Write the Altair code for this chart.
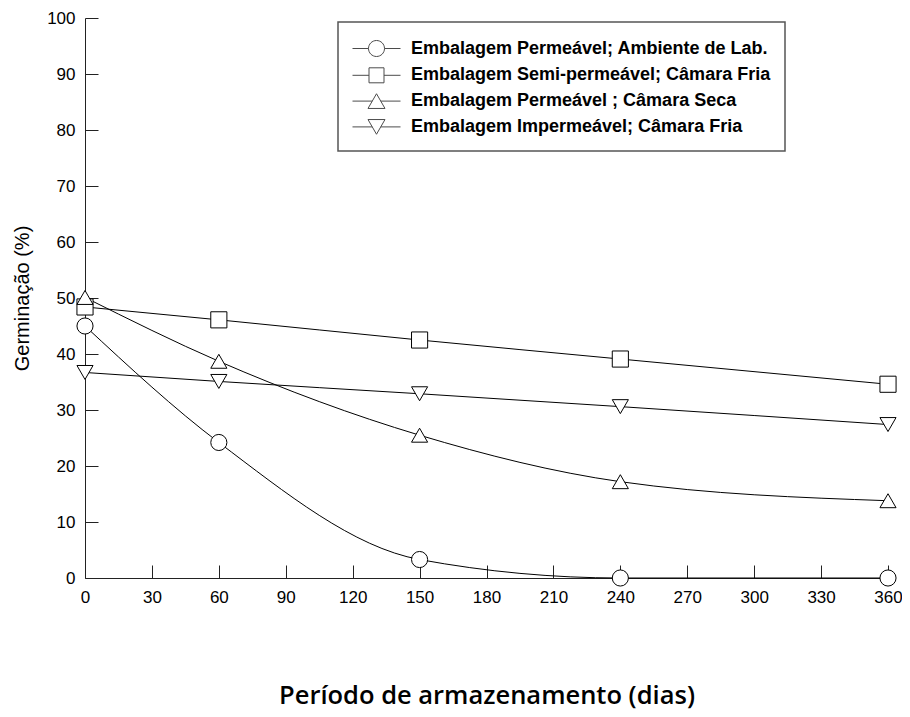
import altair as alt
import pandas as pd

dias = [0, 60, 150, 240, 360]
series = [
    "Embalagem Permeável; Ambiente de Lab.",
    "Embalagem Semi-permeável; Câmara Fria",
    "Embalagem Permeável ; Câmara Seca",
    "Embalagem Impermeável; Câmara Fria",
]
lab = [45.0, 24.2, 3.3, 0.0, 0.0]
semi = [48.4, 46.1, 42.5, 39.1, 34.6]
seca = [50.1, 38.7, 25.5, 17.2, 13.8]
imper = [36.7, 35.1, 32.9, 30.6, 27.4]

x_ticks = [0, 30, 60, 90, 120, 150, 180, 210, 240, 270, 300, 330, 360]
y_ticks = [0, 10, 20, 30, 40, 50, 60, 70, 80, 90, 100]

rows = []
for name, vals in zip(series, [lab, semi, seca, imper]):
    for d, v in zip(dias, vals):
        rows.append({"dias": d, "germ": v, "serie": name})
df = pd.DataFrame(rows)

W, H = 803, 560
FONT = "Liberation Sans"

xs = alt.Scale(domain=[0, 360], nice=False, zero=False)
ys = alt.Scale(domain=[0, 100], nice=False)

shapes = ["circle", "square", "triangle-up", "triangle-down"]
legend_paths = [
    "M-1,0L0.333,0M1.667,0L3,0M0.333,0A0.667,0.667 0 1,1 1.667,0A0.667,0.667 0 1,1 0.333,0Z",
    "M-1,0L0.375,0M1.625,0L3,0M0.375,-0.625L1.625,-0.625L1.625,0.625L0.375,0.625Z",
    "M-1,0L0.646,0M1.354,0L3,0M1,-0.613L1.708,0.613L0.292,0.613Z",
    "M-1,0L0.646,0M1.354,0L3,0M0.292,-0.613L1.708,-0.613L1,0.613Z",
]

base = alt.Chart(df)

lines = base.mark_line(color="black", strokeWidth=1, interpolate="monotone").encode(
    x=alt.X("dias:Q", scale=xs,
            axis=alt.Axis(values=x_ticks, tickSize=0, labelPadding=11, grid=False,
                          labelFlush=False,
                          title="Período de armazenamento (dias)",
                          titleFont="Open Sans", titleFontWeight=600, titleFontSize=25.5,
                          titleBaseline="alphabetic", titleY=125, titleColor="black")),
    y=alt.Y("germ:Q", scale=ys,
            axis=alt.Axis(values=y_ticks, tickSize=0, labelPadding=10, grid=False,
                          labelFlush=False,
                          title="Germinação (%)", titleFont=FONT, titleFontWeight="normal",
                          titleFontSize=20, titleBaseline="middle", titleX=-63, titleY=H / 2,
                          titleColor="black")),
    detail="serie:N",
)

points = base.mark_point(filled=True, fill="white", stroke="black", strokeWidth=1,
                         opacity=1, size=260).encode(
    x=alt.X("dias:Q", scale=xs,
            axis=alt.Axis(orient="top", offset=-H, values=x_ticks, tickSize=13,
                          labels=False, domain=False, grid=False, title=None)),
    y=alt.Y("germ:Q", scale=ys,
            axis=alt.Axis(orient="right", offset=-W, values=y_ticks, tickSize=13,
                          labels=False, domain=False, grid=False, title=None)),
    shape=alt.Shape("serie:N", scale=alt.Scale(domain=series, range=shapes), legend=None),
)

leg = base.mark_point(color="black", filled=False, strokeWidth=1).encode(
    x=alt.X("dias:Q", scale=xs, axis=None),
    y=alt.Y("germ:Q", scale=ys, axis=None),
    shape=alt.Shape("serie:N", sort=series,
                    scale=alt.Scale(domain=series, range=legend_paths),
                    legend=alt.Legend(title=None, orient="none", legendX=253, legendY=4,
                                      symbolSize=576, labelOffset=34, rowPadding=3.8,
                                      padding=14, labelFont=FONT, labelFontWeight="bold",
                                      labelFontSize=18, labelColor="black", labelLimit=800,
                                      fillColor="white", strokeColor="#555",
                                      symbolStrokeColor="black", symbolStrokeWidth=1)),
).transform_filter("datum.dias < 0")

chart = alt.layer(lines, points, leg).resolve_scale(
    shape="independent"
).resolve_axis(
    x="independent", y="independent"
).resolve_legend(
    shape="independent"
).properties(
    width=W, height=H,
    autosize=alt.AutoSizeParams(type="none"),
    padding={"left": 77, "top": 10, "right": 14, "bottom": 131},
).configure_view(
    stroke=None
).configure_axis(
    labelFont=FONT, labelFontSize=17, labelColor="black",
    domainColor="#222", tickColor="#222", domainWidth=1, tickWidth=1,
).configure_legend(
    strokeWidth=1.5
)

chart.save("out.html", embed_options={"renderer": "svg", "actions": False})
